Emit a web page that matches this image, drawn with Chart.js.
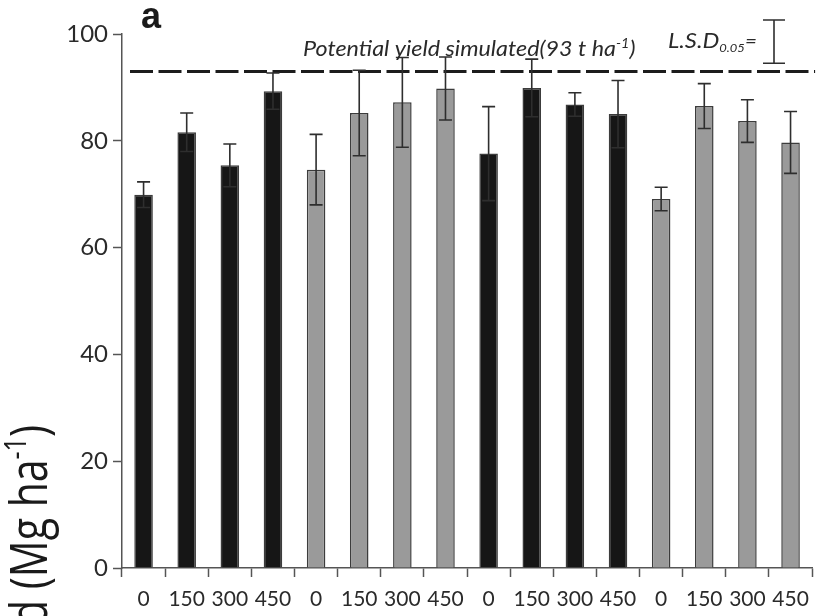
<!DOCTYPE html>
<html>
<head>
<meta charset="utf-8">
<script src="https://cdn.jsdelivr.net/npm/chart.js@4.4.0/dist/chart.umd.min.js"></script>
<style>
  html, body { margin: 0; padding: 0; background: #fff; }
  #wrap { width: 819px; height: 616px; }
</style>
</head>
<body>
<div id="wrap"><canvas id="graficoRendimento"></canvas></div>
<script>
// N dose (kg ha-1) under each bar, four treatment groups of four doses
const doseLabels = ['0', '150', '300', '450', '0', '150', '300', '450',
                    '0', '150', '300', '450', '0', '150', '300', '450'];
const yieldMeans = [69.9, 81.6, 75.4, 89.3, 74.6, 85.2, 87.2, 89.8,
                    77.6, 89.9, 86.8, 85.0, 69.1, 86.5, 83.7, 79.7];
const yieldErrors = [2.4, 3.6, 4.0, 3.4, 6.6, 8.0, 8.4, 5.9,
                     8.8, 5.4, 2.2, 6.3, 2.2, 4.2, 4.0, 5.8];
const yTicks = [0, 20, 40, 60, 80, 100];
const potentialYield = 93;
const lsd05 = 8.1;

const BLACK = '#161616';
const GRAY = '#9a9a9a';
const INK = '#2a2a2a';
const AXIS = '#555555';

const corBarra = i => (Math.floor(i / 4) % 2 === 0 ? BLACK : GRAY);

// dashed line for the simulated potential yield, under the bars
const linhaPotencial = {
    id: 'linhaPotencial',
    beforeDatasetsDraw(chart) {
        const { ctx, chartArea, scales } = chart;
        const y = scales.y.getPixelForValue(potentialYield);
        ctx.save();
        ctx.strokeStyle = '#1c1c1c';
        ctx.lineWidth = 3;
        ctx.setLineDash([23, 5.5]);
        ctx.beginPath();
        ctx.moveTo(chartArea.left + 8, y);
        ctx.lineTo(chartArea.right + 3, y);
        ctx.stroke();
        ctx.restore();
    }
};

// +/- error whiskers on every bar
const barrasErro = {
    id: 'barrasErro',
    afterDatasetsDraw(chart) {
        const ctx = chart.ctx;
        const y = chart.scales.y;
        const meta = chart.getDatasetMeta(0);
        ctx.save();
        ctx.strokeStyle = '#2e2e2e';
        ctx.lineWidth = 1.6;
        meta.data.forEach((bar, i) => {
            const top = y.getPixelForValue(yieldMeans[i] + yieldErrors[i]);
            const bot = y.getPixelForValue(yieldMeans[i] - yieldErrors[i]);
            const x = bar.x;
            ctx.beginPath();
            ctx.moveTo(x, top); ctx.lineTo(x, bot);
            ctx.moveTo(x - 6.5, top); ctx.lineTo(x + 6.5, top);
            ctx.moveTo(x - 6.5, bot); ctx.lineTo(x + 6.5, bot);
            ctx.stroke();
        });
        ctx.restore();
    }
};

// draws a run of [text, font, dy] pieces left to right
function textoComposto(ctx, x, y, partes) {
    let cx = x;
    partes.forEach(([txt, font, dy]) => {
        ctx.font = font;
        ctx.fillText(txt, cx, y + dy);
        cx += ctx.measureText(txt).width;
    });
    return cx;
}

function larguraComposta(ctx, partes) {
    return partes.reduce((w, [txt, font]) => {
        ctx.font = font;
        return w + ctx.measureText(txt).width;
    }, 0);
}

// same as textoComposto but stretched sideways by sx
function textoEsticado(ctx, x, y, sx, partes) {
    ctx.save();
    ctx.translate(x, y);
    ctx.scale(sx, 1);
    textoComposto(ctx, 0, 0, partes);
    ctx.restore();
}

// panel letter, annotations, LSD whisker and the rotated y title
const anotacoes = {
    id: 'anotacoes',
    afterDraw(chart) {
        const { ctx, scales } = chart;
        ctx.save();
        ctx.fillStyle = '#1a1a1a';
        ctx.textBaseline = 'alphabetic';
        ctx.textAlign = 'left';

        ctx.font = 'bold 36px "Liberation Sans", Arial, sans-serif';
        ctx.fillText('a', 141, 28);

        ctx.fillStyle = INK;
        const it = 'italic 21px Lato, sans-serif';
        const itSmall = 'italic 13px Lato, sans-serif';
        textoEsticado(ctx, 303, 56, 1.11, [
            ['Potential yield simulated(' + potentialYield + ' t ha', it, 0],
            ['-1', itSmall, -8],
            [')', it, 0]
        ]);

        textoEsticado(ctx, 668, 48, 1.08, [
            ['L.S.D', 'italic 22px Lato, sans-serif', 0],
            ['0.05', 'italic 12px Lato, sans-serif', 4],
            ['=', 'italic 19px Lato, sans-serif', 0]
        ]);

        // LSD whisker, hanging from the top margin
        const pxUnit = scales.y.getPixelForValue(0) - scales.y.getPixelForValue(1);
        const lx = 774, ly0 = 20, ly1 = ly0 + lsd05 * pxUnit;
        ctx.strokeStyle = '#2e2e2e';
        ctx.lineWidth = 1.6;
        ctx.beginPath();
        ctx.moveTo(lx, ly0); ctx.lineTo(lx, ly1);
        ctx.moveTo(lx - 11, ly0); ctx.lineTo(lx + 11, ly0);
        ctx.moveTo(lx - 11, ly1); ctx.lineTo(lx + 11, ly1);
        ctx.stroke();

        // y axis title, read bottom to top, glyphs a little tall
        const big = '41px "Open Sans", sans-serif';
        const small = '25px "Open Sans", sans-serif';
        const partes = [
            ['Yield (Mg ha', big, 0],
            ['-1', small, -17],
            [')', big, 0]
        ];
        const w = larguraComposta(ctx, partes);
        ctx.translate(47, 425);
        ctx.rotate(-Math.PI / 2);
        ctx.scale(1, 1.25);
        ctx.fillStyle = '#1a1a1a';
        textoComposto(ctx, -w, 0, partes);
        ctx.restore();
    }
};

const ctx = document.getElementById('graficoRendimento');

new Chart(ctx, {
    type: 'bar',
    data: {
        labels: doseLabels,
        datasets: [{
            data: yieldMeans,
            backgroundColor: yieldMeans.map((_, i) => corBarra(i)),
            borderColor: '#3c3c3c',
            borderWidth: 1.5,
            borderSkipped: 'bottom',
            categoryPercentage: 1,
            barPercentage: 0.43
        }]
    },
    options: {
        responsive: true,
        maintainAspectRatio: false,
        animation: false,
        layout: {
            padding: { top: 34, right: 6, left: 0, bottom: 0 }
        },
        scales: {
            y: {
                min: 0,
                max: 100,
                afterBuildTicks: s => { s.ticks = yTicks.map(v => ({ value: v })); },
                afterFit: s => { s.width = 122; },
                ticks: {
                    color: INK,
                    padding: 5,
                    font: { family: 'Lato', size: 24 }
                },
                grid: {
                    drawOnChartArea: false,
                    drawTicks: true,
                    tickLength: 9,
                    tickColor: AXIS,
                    tickWidth: 1.5
                },
                border: { display: true, color: AXIS, width: 1.5 }
            },
            x: {
                afterFit: s => { s.height = 48; },
                ticks: {
                    color: INK,
                    padding: 10,
                    maxRotation: 0,
                    autoSkip: false,
                    font: { family: 'Lato', size: 21 }
                },
                grid: {
                    offset: true,
                    drawOnChartArea: false,
                    drawTicks: true,
                    tickLength: 9,
                    tickColor: AXIS,
                    tickWidth: 1.5
                },
                border: { display: true, color: AXIS, width: 1.5 }
            }
        },
        plugins: {
            legend: { display: false },
            tooltip: { enabled: false }
        }
    },
    plugins: [linhaPotencial, barrasErro, anotacoes]
});
</script>
</body>
</html>
